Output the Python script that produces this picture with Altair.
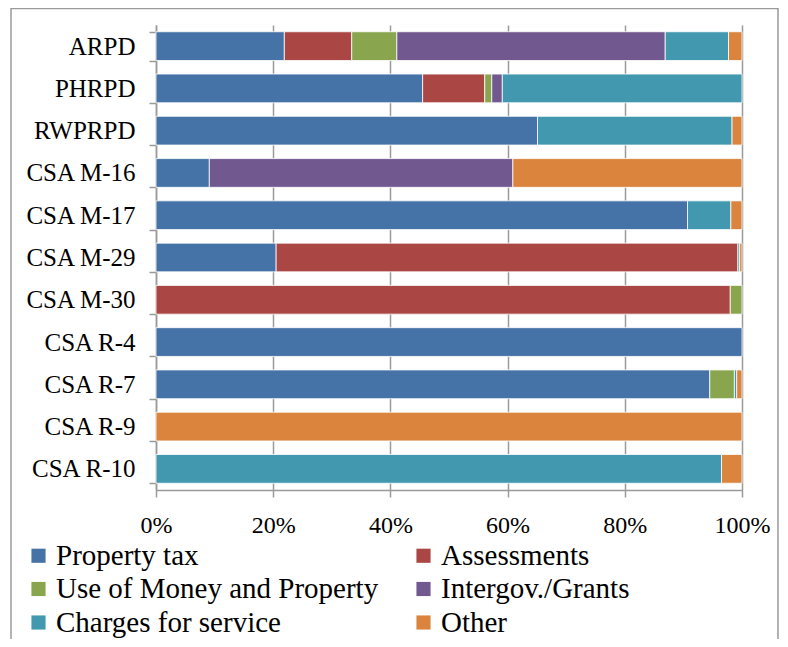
import altair as alt
import pandas as pd

agencies = ["ARPD", "PHRPD", "RWPRPD", "CSA M-16", "CSA M-17", "CSA M-29",
            "CSA M-30", "CSA R-4", "CSA R-7", "CSA R-9", "CSA R-10"]
series_names = ["Property tax", "Assessments", "Use of Money and Property",
                "Intergov./Grants", "Charges for service", "Other"]
series_colors = ["#4572A7", "#AA4643", "#89A54E", "#71588F", "#4198AF", "#DB843D"]

property_tax = [21.9, 45.5, 65.1, 9.1, 90.7, 20.5, 0, 100, 94.5, 0, 0]
assessments = [11.5, 10.6, 0, 0, 0, 78.8, 98.0, 0, 0, 0, 0]
use_of_money = [7.7, 1.2, 0, 0, 0, 0, 2.0, 0, 4.2, 0, 0]
intergov = [45.8, 1.8, 0, 51.8, 0, 0, 0, 0, 0, 0, 0]
charges = [10.8, 40.9, 33.2, 0, 7.4, 0.3, 0, 0, 0.4, 0, 96.5]
other = [2.3, 0, 1.7, 39.1, 1.9, 0.4, 0, 0, 0.9, 100, 3.5]

all_series = [property_tax, assessments, use_of_money, intergov, charges, other]
rows = []
for si, (name, vals) in enumerate(zip(series_names, all_series)):
    for a, v in zip(agencies, vals):
        if v > 0:
            rows.append({"agency": a, "source": name, "value": v, "order": si})
df = pd.DataFrame(rows)

# legend fills column by column: reorder so it reads row by row
legend_order = [0, 2, 4, 1, 3, 5]
legend_domain = [series_names[i] for i in legend_order]
legend_range = [series_colors[i] for i in legend_order]

FONT = "Liberation Serif"

bars = alt.Chart(df).mark_bar(stroke="#ffffff", strokeWidth=1, strokeOpacity=0.8).encode(
    x=alt.X("value:Q", stack="normalize",
            scale=alt.Scale(domain=[0, 1], nice=False),
            axis=alt.Axis(title=None, format="%", values=[0, 0.2, 0.4, 0.6, 0.8, 1.0],
                          grid=True, gridColor="#9a9a9a", gridWidth=1.5,
                          domainColor="#9a9a9a", domainWidth=1.5,
                          tickColor="#9a9a9a", tickWidth=1.5, tickSize=7,
                          labelPadding=16, labelFont=FONT, labelFontSize=24,
                          labelColor="#000000", labelFlush=False)),
    y=alt.Y("agency:N", sort=agencies,
            scale=alt.Scale(paddingInner=0.32, paddingOuter=0.16),
            axis=alt.Axis(title=None, tickBand="extent", grid=False,
                          domainColor="#9a9a9a", domainWidth=1.5,
                          tickColor="#9a9a9a", tickWidth=1.5, tickSize=7,
                          labelPadding=14, labelFont=FONT, labelFontSize=25,
                          labelColor="#000000")),
    color=alt.Color("source:N",
                    scale=alt.Scale(domain=legend_domain, range=legend_range),
                    legend=alt.Legend(title=None, orient="none", legendX=-132, legendY=516,
                                      columns=2, columnPadding=30, rowPadding=3.5,
                                      symbolType="square", symbolSize=200,
                                      symbolStrokeWidth=0, labelOffset=3,
                                      labelFont=FONT, labelFontSize=29,
                                      labelColor="#000000", labelLimit=0)),
    order=alt.Order("order:Q", sort="ascending"),
)

frame = alt.Chart(pd.DataFrame({"k": [0]})).mark_rect(
    fill=None, stroke="#9a9a9a", strokeWidth=1.5, clip=False
).encode(
    x=alt.value(-145), x2=alt.value(622), y=alt.value(-16.5), y2=alt.value(660)
)

chart = alt.layer(frame, bars).properties(
    width=586, height=465,
    autosize=alt.AutoSizeParams(type="none"),
    padding={"left": 148, "top": 17, "right": 38, "bottom": 149},
).configure_view(stroke=None)

chart.save("out.html", embed_options={"renderer": "svg", "actions": False})
